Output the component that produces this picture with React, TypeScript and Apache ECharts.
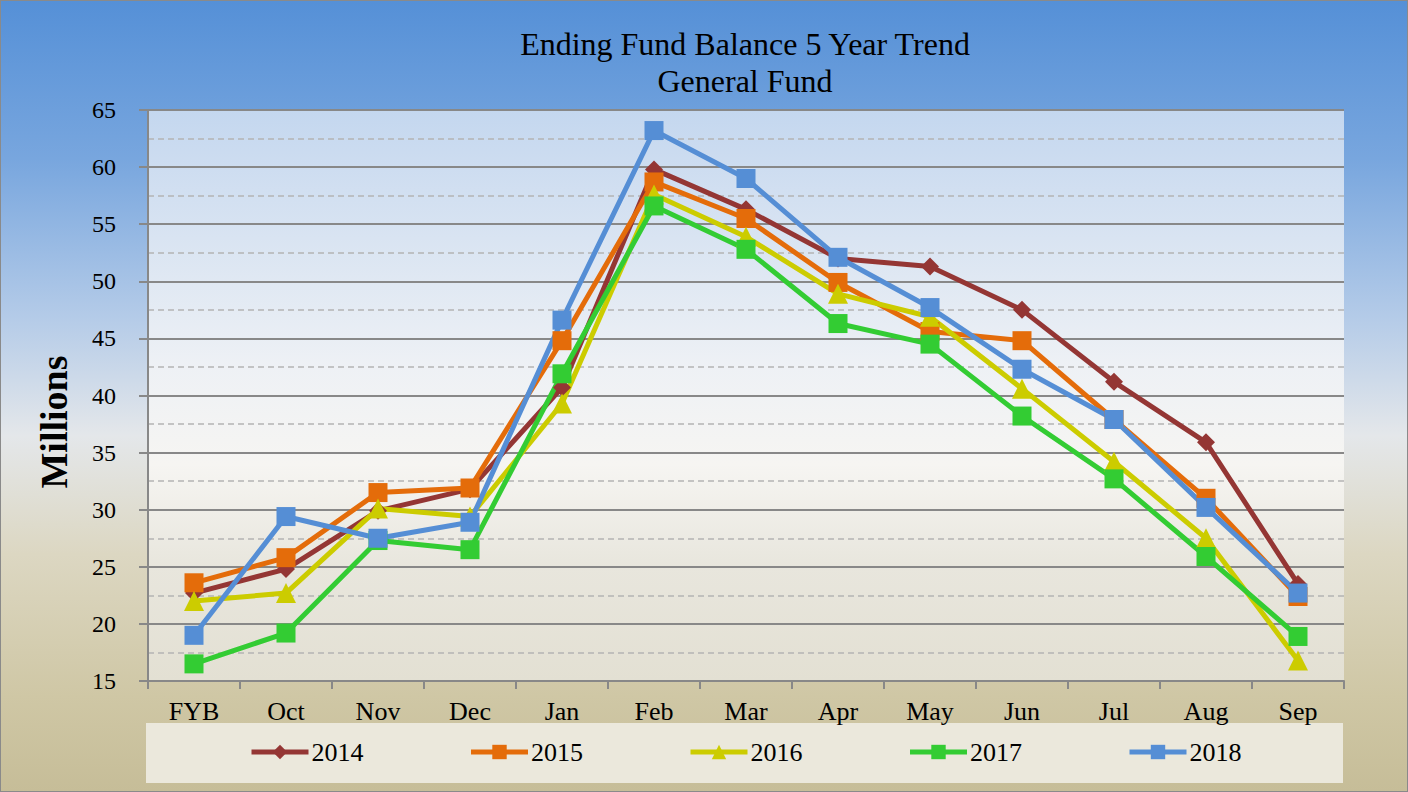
import React, { useEffect, useRef } from "react";
import * as echarts from "echarts";

const categories = ["FYB", "Oct", "Nov", "Dec", "Jan", "Feb", "Mar", "Apr", "May", "Jun", "Jul", "Aug", "Sep"];
const s2014 = [22.7, 24.8, 29.9, 31.8, 40.7, 59.8, 56.3, 52.0, 51.3, 47.5, 41.2, 35.9, 23.5];
const s2015 = [23.6, 25.8, 31.5, 31.9, 44.8, 58.7, 55.5, 49.9, 45.6, 44.8, 37.9, 31.0, 22.4];
const s2016 = [22.0, 22.7, 30.1, 29.4, 39.3, 57.6, 53.9, 48.9, 46.9, 40.6, 34.2, 27.5, 16.8];
const s2017 = [16.5, 19.2, 27.3, 26.5, 41.9, 56.6, 52.8, 46.3, 44.5, 38.2, 32.7, 25.9, 18.9];
const s2018 = [19.0, 29.4, 27.5, 28.9, 46.6, 63.2, 59.0, 52.1, 47.7, 42.3, 37.9, 30.2, 22.7];
const titleLines = ["Ending Fund Balance 5 Year Trend", "General Fund"];

const FONT = "'Liberation Serif', 'Times New Roman', serif";

export default function App() {
  const ref = useRef<HTMLDivElement>(null);
  useEffect(() => {
    document.body.style.margin = "0";
    const chart = echarts.init(ref.current!, undefined, { renderer: "svg" });
    const mk = (name: string, data: number[], color: string, symbol: string, size: number) => ({
      name,
      type: "line",
      data,
      symbol,
      symbolSize: size,
      showSymbol: true,
      lineStyle: { width: 5, color },
      itemStyle: { color },
      z: 3,
    });
    chart.setOption({
      animation: false,
      textStyle: { fontFamily: FONT },
      graphic: [
        {
          type: "rect",
          shape: { x: 145, y: 722, width: 1197, height: 60 },
          style: { fill: "#ebe8dc" },
          z: -1,
        },
        {
          type: "text",
          x: 744,
          y: 27,
          style: {
            text: titleLines[0],
            font: "32px " + FONT,
            fill: "#000",
            align: "center",
            verticalAlign: "top",
          },
        },
        {
          type: "text",
          x: 744,
          y: 64,
          style: {
            text: titleLines[1],
            font: "32px " + FONT,
            fill: "#000",
            align: "center",
            verticalAlign: "top",
          },
        },
        {
          type: "text",
          x: 53,
          y: 421,
          rotation: Math.PI / 2,
          style: {
            text: "Millions",
            font: "bold 38px " + FONT,
            fill: "#000",
            align: "center",
            verticalAlign: "middle",
          },
        },
      ],
      legend: {
        top: 738,
        left: 248,
        padding: 0,
        itemGap: 105,
        itemWidth: 57,
        itemHeight: 18,
        lineStyle: { width: 5 },
        textStyle: { fontFamily: FONT, fontSize: 26, color: "#000", padding: [0, 0, 0, -2] },
        data: ["2014", "2015", "2016", "2017", "2018"],
      },
      grid: {
        left: 147,
        right: 63,
        top: 109,
        height: 571,
        show: true,
        borderWidth: 0,
        backgroundColor: new echarts.graphic.LinearGradient(0, 0, 0, 1, [
          { offset: 0, color: "#c4d7ef" },
          { offset: 0.45, color: "#eef1f5" },
          { offset: 0.62, color: "#f6f5f2" },
          { offset: 0.8, color: "#e8e6dd" },
          { offset: 1, color: "#e3e0d3" },
        ]),
      },
      xAxis: {
        type: "category",
        data: categories,
        boundaryGap: true,
        axisLine: { lineStyle: { color: "#888", width: 2 } },
        axisTick: { show: true, length: 8, alignWithLabel: false, lineStyle: { color: "#888", width: 2 } },
        axisLabel: { fontFamily: FONT, fontSize: 26, color: "#000", margin: 17 },
      },
      yAxis: {
        type: "value",
        min: 15,
        max: 65,
        interval: 5,
        axisLine: { show: true, lineStyle: { color: "#888", width: 2 } },
        axisTick: { show: true, length: 9, lineStyle: { color: "#888", width: 2 } },
        axisLabel: { fontFamily: FONT, fontSize: 24, color: "#000", margin: 32 },
        splitLine: { show: true, lineStyle: { color: "#888", width: 2 } },
        minorTick: { show: false, splitNumber: 2 },
        minorSplitLine: { show: true, lineStyle: { color: "#b4b4b4", width: 1.5, type: [6, 4] } },
      },
      series: [
        mk("2014", s2014, "#943634", "diamond", 18),
        mk("2015", s2015, "#e46c0a", "rect", 19),
        mk("2016", s2016, "#cccc00", "triangle", 20),
        mk("2017", s2017, "#33cc33", "rect", 19),
        mk("2018", s2018, "#558ed5", "rect", 19),
      ],
    });
    return () => chart.dispose();
  }, []);
  return (
    <div
      style={{
        position: "absolute",
        left: 0,
        top: 0,
        width: 1408,
        height: 792,
        boxSizing: "border-box",
        border: "1px solid #8a8a8a",
        background:
          "linear-gradient(to bottom, #5590d7 0%, #78a6de 20%, #b4cbe8 40%, #e4e7ea 55%, #dcd7c2 70%, #cfc7a5 88%, #c6bd98 100%)",
      }}
    >
      <div ref={ref} style={{ width: 1406, height: 790 }} />
    </div>
  );
}
